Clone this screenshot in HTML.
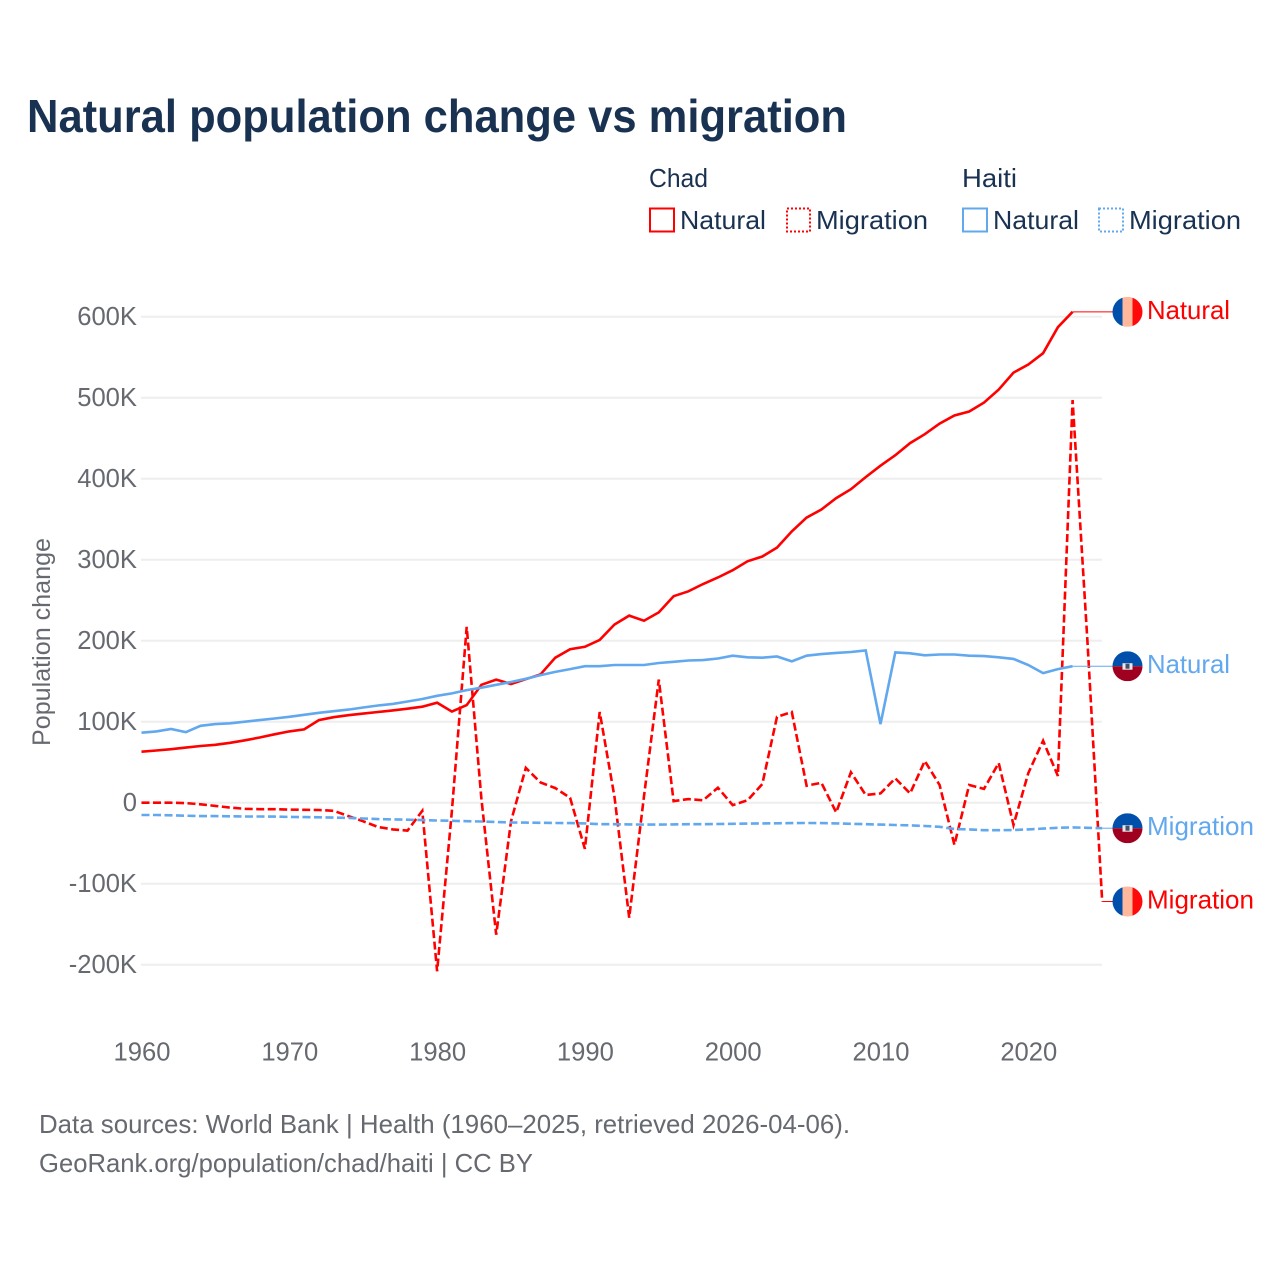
<!DOCTYPE html>
<html lang="en">
<head>
<meta charset="utf-8">
<title>Natural population change vs migration</title>
<style>
html,body{margin:0;padding:0;background:#fff}
svg{display:block}
text{font-family:"Liberation Sans",Arial,sans-serif}
</style>
</head>
<body>
<svg id="chart" width="1280" height="1280" viewBox="0 0 1280 1280" xmlns="http://www.w3.org/2000/svg">
<rect width="1280" height="1280" fill="#fff"/>
<text x="27" y="132" font-size="46" font-weight="700" fill="#1a3252" textLength="820" lengthAdjust="spacingAndGlyphs">Natural population change vs migration</text>

<g font-size="26" fill="#1a3252">
<text x="649" y="187" textLength="59" lengthAdjust="spacingAndGlyphs">Chad</text>
<text x="962" y="187" textLength="55" lengthAdjust="spacingAndGlyphs">Haiti</text>
<rect x="650" y="208.500" width="24" height="23" fill="none" stroke="#ff0000" stroke-width="2"/>
<text x="680" y="229" textLength="86" lengthAdjust="spacingAndGlyphs">Natural</text>
<rect x="787" y="208.500" width="23" height="23" fill="none" stroke="#ff0000" stroke-width="2" stroke-dasharray="2 2"/>
<text x="816" y="229" textLength="112" lengthAdjust="spacingAndGlyphs">Migration</text>
<rect x="963" y="208.500" width="24" height="23" fill="none" stroke="#62a8ee" stroke-width="2"/>
<text x="993" y="229" textLength="86" lengthAdjust="spacingAndGlyphs">Natural</text>
<rect x="1099" y="208.500" width="24" height="23" fill="none" stroke="#62a8ee" stroke-width="2" stroke-dasharray="2 2"/>
<text x="1129" y="229" textLength="112" lengthAdjust="spacingAndGlyphs">Migration</text>
</g>

<g id="grid"></g>
<g id="yticks" font-size="25.600" fill="#666a70" text-anchor="end"></g>
<g id="xticks" font-size="25.600" fill="#666a70" text-anchor="middle"></g>
<text transform="translate(50,746) rotate(-90)" font-size="25" fill="#666a70" textLength="208" lengthAdjust="spacingAndGlyphs">Population change</text>

<g id="series"></g>
<g id="endcaps"></g>

<g font-size="26" fill="#666a70">
<text x="39" y="1133" textLength="811" lengthAdjust="spacingAndGlyphs">Data sources: World Bank | Health (1960–2025, retrieved 2026-04-06).</text>
<text x="39" y="1172" textLength="494" lengthAdjust="spacingAndGlyphs">GeoRank.org/population/chad/haiti | CC BY</text>
</g>
</svg>
<script>
const firstYear = 1960;
const xTickYears = [1960, 1970, 1980, 1990, 2000, 2010, 2020];
const yTickValues = [600, 500, 400, 300, 200, 100, 0, -100, -200];
const yTickLabels = ['600K', '500K', '400K', '300K', '200K', '100K', '0', '-100K', '-200K'];

const chadNatural = [63,64.5,66,68,70,71.5,74,77,80.5,84.5,88,90.5,102,105.5,108,110,112,114,116,118.5,123.5,112.5,120.5,145.5,152,146.5,152.5,158.5,179,189.5,192.5,201,220,231,224.7,235,255,261,270,278,287,298,304,315,335,352,362,376,387,402,416,429,444,455,468,478,483,494,510,531,541,555,587,606];
const chadMigration = [0,0,0,-0.5,-2,-4,-6,-7.5,-8,-8,-8.5,-8.8,-9,-10,-16.5,-23,-30,-33,-34.5,-10,-208,-10,217,5,-163,-23,43,25,18,6,-57,112,7,-142,8,152,2,4.5,3,18.5,-3,3,23,106,112,21,24.6,-12,37.5,9.5,11.5,30,11.5,51.5,21.8,-52,21.8,17,49,-27.5,36.5,76.5,33,497,200,-122];
const haitiNatural = [86.4,88,91,87,95,97,98,100,102,104,106,108.5,111,113,115,117.5,120,122,125,128,132,135,139,142,145.5,149,153,157.5,161.5,165,168.5,168.5,170,170,170,172.5,174,175.5,176,178,181.5,179.5,179,180.5,174.5,181.5,183.5,185,186,188,97,185.5,184.5,182,183,183,181.5,181,179.5,177.5,170,160,165,168.5];
const haitiMigration = [-15.2,-15.2,-15.5,-16,-16.5,-16.6,-16.8,-17,-17,-17.2,-17.5,-17.8,-18,-18.4,-18.8,-19.5,-20.2,-20.6,-21,-21.5,-22,-22.4,-22.8,-23.2,-23.8,-24.5,-24.6,-24.8,-25,-25.2,-25.5,-26.5,-26.6,-26.8,-27,-27,-26.8,-26.6,-26.5,-26.3,-26,-25.8,-25.6,-25.4,-25.2,-25,-25.2,-25.5,-26,-26.5,-27,-27.5,-28,-28.8,-29.8,-32.5,-33,-34,-34,-33.7,-33,-32,-31,-30.5,-31,-31.5];

const SVGNS = 'http://www.w3.org/2000/svg';
function xScale(year) { return 141.5 + (year - firstYear) * 14.78; }
function yScale(value) { return 802.7 - value * 0.81; }
function points(values) {
  return values.map(function (v, i) { return xScale(firstYear + i).toFixed(1) + ',' + yScale(v).toFixed(1); }).join(' ');
}
function make(tag, attrs, parent) {
  const el = document.createElementNS(SVGNS, tag);
  for (const k in attrs) el.setAttribute(k, attrs[k]);
  parent.appendChild(el);
  return el;
}

const gridGroup = document.getElementById('grid');
const yTickGroup = document.getElementById('yticks');
yTickValues.forEach(function (v, i) {
  const line = make('line', {x1: 141, x2: 1102, y1: yScale(v), y2: yScale(v), stroke: '#eeeeee', 'stroke-width': 2}, gridGroup);
  
  
  const t = make('text', {x: 137, y: yScale(v) + 8.5}, yTickGroup);
  t.textContent = yTickLabels[i];
  
  
});

const xTickGroup = document.getElementById('xticks');
xTickYears.forEach(function (year) {
  const t = make('text', {x: xScale(year) + 0.5, y: 1060.5}, xTickGroup);
  t.textContent = String(year);
  
  
});

const seriesGroup = document.getElementById('series');
const capGroup = document.getElementById('endcaps');
const RED = '#ff0000';
const BLUE = '#62a8ee';

function drawSeries(values, color, dashed, seriesName) {
  const line = make('polyline', {points: points(values), fill: 'none', stroke: color, 'stroke-width': 2.6, 'stroke-linejoin': 'miter', 'stroke-dasharray': dashed ? '8 3.5' : 'none'}, seriesGroup);
  
  
}

function drawFlag(country, cy, labelText, color, lastX, lastY) {
  const conn = make('line', {x1: lastX, y1: lastY, x2: 1113, y2: lastY, stroke: color, 'stroke-width': 1}, capGroup);
  
  
  const cx = 1127.5;
  const g = make('g', {}, capGroup);
  
  
  const clipId = 'clip' + Math.round(cy);
  const defs = make('defs', {}, g);
  const cp = make('clipPath', {id: clipId}, defs);
  make('circle', {cx: cx, cy: cy, r: 15}, cp);
  const inner = make('g', {'clip-path': 'url(#' + clipId + ')'}, g);
  if (country === 'chad') {
    make('rect', {x: cx - 15, y: cy - 15, width: 10, height: 30, fill: '#0050ab'}, inner);
    make('rect', {x: cx - 5, y: cy - 15, width: 10, height: 30, fill: '#ffb89c'}, inner);
    make('rect', {x: cx + 5, y: cy - 15, width: 10, height: 30, fill: '#ff0a0a'}, inner);
  } else {
    make('rect', {x: cx - 15, y: cy - 15, width: 30, height: 15, fill: '#0050ab'}, inner);
    make('rect', {x: cx - 15, y: cy, width: 30, height: 15, fill: '#a00020'}, inner);
    make('rect', {x: cx - 5, y: cy - 3, width: 10, height: 6.500, fill: '#e8e8e8'}, inner);
    make('rect', {x: cx - 2, y: cy - 2.500, width: 4, height: 5, fill: '#44506a'}, inner);
  }
  const t = make('text', {x: 1147, y: cy + 7, 'font-size': 26, fill: color, textLength: labelText === 'Natural' ? 83 : 107, lengthAdjust: 'spacingAndGlyphs'}, capGroup);
  t.textContent = labelText;
  
  
}

drawSeries(chadNatural, RED, false, 'line-chad-natural');
drawSeries(chadMigration, RED, true, 'line-chad-migration');
drawSeries(haitiNatural, BLUE, false, 'line-haiti-natural');
drawSeries(haitiMigration, BLUE, true, 'line-haiti-migration');

function endOf(values) {
  const idx = values.length - 1;
  return {x: xScale(firstYear + idx), y: yScale(values[idx])};
}
const e1 = endOf(chadNatural);
drawFlag('chad', e1.y, 'Natural', RED, e1.x, e1.y);
const e2 = endOf(haitiNatural);
drawFlag('haiti', e2.y, 'Natural', BLUE, e2.x, e2.y);
const e3 = endOf(haitiMigration);
drawFlag('haiti', e3.y, 'Migration', BLUE, e3.x, e3.y);
const e4 = endOf(chadMigration);
drawFlag('chad', e4.y, 'Migration', RED, e4.x, e4.y);
</script>
</body>
</html>
